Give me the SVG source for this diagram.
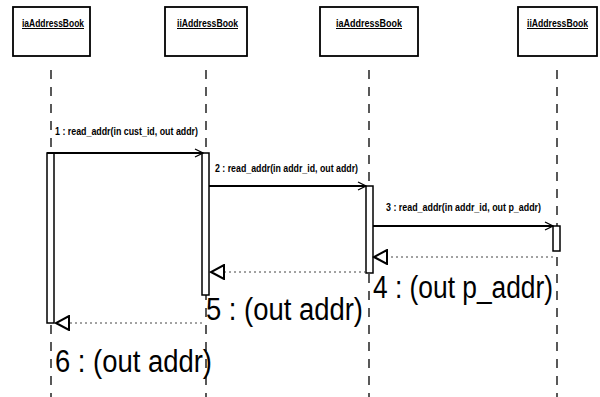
<svg xmlns="http://www.w3.org/2000/svg" width="600" height="397" viewBox="0 0 600 397">
  <style>
    .box { fill: #fff; stroke: #000; stroke-width: 1.8; }
    .name { font-family: "Liberation Sans", Arial, sans-serif; font-size: 10px; font-weight: bold; fill: #000; text-decoration: underline; }
    .life { stroke: #000; stroke-width: 1.3; stroke-dasharray: 9 8; fill: none; }
    .act { fill: #fff; stroke: #000; stroke-width: 1.5; }
    .call { stroke: #000; stroke-width: 1.8; fill: none; }
    .ret { stroke: #444; stroke-width: 1; stroke-dasharray: 2 3; fill: none; }
    .msg { font-family: "Liberation Sans", Arial, sans-serif; font-size: 10px; font-weight: bold; fill: #000; }
    .rlbl { font-family: "Liberation Sans", Arial, sans-serif; font-size: 31px; fill: #000; }
  </style>
  <defs>
    <marker id="open" markerWidth="10" markerHeight="10" refX="9" refY="5" orient="auto" markerUnits="userSpaceOnUse">
      <path d="M1,1 L9,5 L1,9" fill="none" stroke="#000" stroke-width="1.3"/>
    </marker>
    <marker id="hollow" markerWidth="16" markerHeight="16" refX="14" refY="8" orient="auto" markerUnits="userSpaceOnUse">
      <path d="M14,8 L1,1 L1,15 Z" fill="#fff" stroke="#000" stroke-width="2"/>
    </marker>
  </defs>

  <!-- lifelines -->
  <g id="lifelines">
    <line class="life" x1="51" y1="70" x2="51" y2="397"/>
    <line class="life" x1="206" y1="70" x2="206" y2="397"/>
    <line class="life" x1="369" y1="70" x2="369" y2="397"/>
    <line class="life" x1="557" y1="70" x2="557" y2="397"/>
  </g>

  <g id="obj1">
    <rect class="box" x="13" y="7" width="77" height="49"/>
    <text class="name" x="22" y="27" textLength="62" lengthAdjust="spacingAndGlyphs">iaAddressBook</text>
  </g>
  <g id="obj2">
    <rect class="box" x="165" y="7" width="82" height="49"/>
    <text class="name" x="177" y="27" textLength="61" lengthAdjust="spacingAndGlyphs">iiAddressBook</text>
  </g>
  <g id="obj3">
    <rect class="box" x="320" y="7" width="98" height="49"/>
    <text class="name" x="336" y="27" textLength="66" lengthAdjust="spacingAndGlyphs">iaAddressBook</text>
  </g>
  <g id="obj4">
    <rect class="box" x="518" y="7" width="79" height="49"/>
    <text class="name" x="527" y="27" textLength="61" lengthAdjust="spacingAndGlyphs">iiAddressBook</text>
  </g>

  <!-- activations -->
  <g id="activations">
    <rect class="act" x="47" y="153" width="7" height="170"/>
    <rect class="act" x="202" y="153" width="7" height="142"/>
    <rect class="act" x="366" y="186" width="7" height="87"/>
    <rect class="act" x="553" y="226" width="7" height="25"/>
  </g>

  <g id="connectors">
    <line class="call" x1="47" y1="153" x2="203" y2="153" marker-end="url(#open)"/>
    <line class="call" x1="209" y1="186" x2="366" y2="186" marker-end="url(#open)"/>
    <line class="call" x1="373" y1="226" x2="553" y2="226" marker-end="url(#open)"/>
    <line class="ret" x1="553" y1="257" x2="374" y2="257" marker-end="url(#hollow)"/>
    <line class="ret" x1="366" y1="272" x2="211" y2="272" marker-end="url(#hollow)"/>
    <line class="ret" x1="202" y1="323" x2="56" y2="323" marker-end="url(#hollow)"/>
  </g>

  <g id="labels">
    <text class="msg" x="55" y="135" textLength="143" lengthAdjust="spacingAndGlyphs">1 : read_addr(in cust_id, out addr)</text>
    <text class="msg" x="215" y="172" textLength="143" lengthAdjust="spacingAndGlyphs">2 : read_addr(in addr_id, out addr)</text>
    <text class="msg" x="386" y="211" textLength="155" lengthAdjust="spacingAndGlyphs">3 : read_addr(in addr_id, out p_addr)</text>
    <text class="rlbl" x="373" y="298" textLength="180" lengthAdjust="spacingAndGlyphs">4 : (out p_addr)</text>
    <text class="rlbl" x="206" y="320" textLength="157" lengthAdjust="spacingAndGlyphs">5 : (out addr)</text>
    <text class="rlbl" x="55" y="372" textLength="157" lengthAdjust="spacingAndGlyphs">6 : (out addr)</text>
  </g>
</svg>
